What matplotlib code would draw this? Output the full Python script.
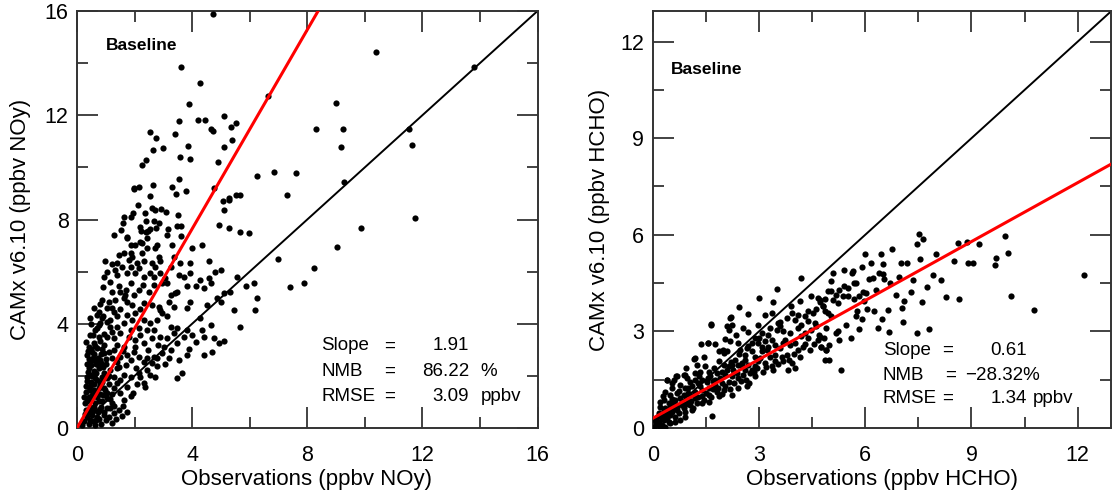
import numpy as np
import matplotlib
matplotlib.use("Agg")
import matplotlib.pyplot as plt
from matplotlib.ticker import MultipleLocator

plt.rcParams['font.family'] = ['Liberation Sans', 'DejaVu Sans']

# ---------------- NOy panel data (obs, model), ppbv ----------------
noy_points = [
    (3.62,13.84),(4.29,13.23),(3.88,12.42),(6.63,12.74),(5.10,11.98),(3.56,11.79),(4.21,11.80),(4.45,11.80),
    (5.52,11.72),(5.34,11.54),(4.64,11.47),(4.71,11.40),(2.55,11.35),(3.40,11.27),(2.76,11.14),(5.40,11.04),
    (2.98,10.74),(3.84,10.83),(2.63,10.67),(5.12,10.80),(3.58,10.41),(3.91,10.31),(2.41,10.28),(2.26,10.10),
    (4.90,10.19),(6.27,9.68),(6.86,9.81),(3.54,9.55),(2.63,9.31),(1.97,9.22),(2.16,9.24),(1.99,9.16),(3.29,9.24),
    (4.77,9.22),(2.55,8.91),(3.44,8.97),(3.79,9.08),(2.13,8.56),(2.61,8.43),(2.93,8.41),(3.10,8.28),(2.70,8.35),
    (2.38,8.24),(1.94,8.24),(1.65,8.11),(1.89,8.11),(3.50,8.16),(5.11,8.35),(5.08,8.71),(5.29,8.81),(5.29,8.73),
    (5.54,8.95),(5.66,8.95),(1.59,7.85),(2.40,7.94),(2.69,7.95),(2.84,7.88),(2.20,7.73),(2.53,7.65),(2.47,7.57),
    (2.24,7.55),(2.39,7.53),(2.74,7.68),(3.15,7.65),(3.47,7.75),(3.63,7.75),(4.93,7.78),(5.29,7.68),(5.65,7.52),
    (5.97,7.48),(1.28,7.41),(1.52,7.61),(1.73,7.31),(3.13,7.41),(3.63,7.38),
    (4.73,15.89),(10.39,14.44),(13.79,13.84),(9.00,12.47),(8.30,11.47),(9.23,11.47),(11.54,11.49),(9.16,10.80),
    (11.63,10.86),(7.61,9.80),(7.29,8.94),(9.26,9.43),(11.76,8.05),(9.87,7.66),(9.02,6.95),(8.22,6.15),
    (7.39,5.40),(7.90,5.58),(7.00,6.47),
    (1.74,7.28),(2.43,7.28),(2.20,7.15),(1.86,7.02),(2.03,7.02),(2.26,7.09),(2.78,7.02),(2.72,6.90),(3.30,7.02),
    (4.35,7.02),(4.00,6.90),
    (1.45,6.64),(1.62,6.70),(1.86,6.73),(2.26,6.70),(2.43,6.90),(2.84,6.58),(1.39,6.32),(0.99,6.39),(1.80,6.45),
    (1.91,6.58),(2.09,6.32),(2.32,6.39),(2.61,6.32),(2.90,6.39),(3.36,6.58),(3.59,6.32),(3.94,6.32),(4.58,6.39),
    (2.72,6.19),
    (1.33,6.07),(1.57,6.19),(1.86,6.19),(2.14,6.13),(2.03,5.94),(1.39,5.87),(1.74,5.94),(2.32,5.81),(2.67,5.81),
    (2.90,5.94),(3.25,6.19),(3.54,5.87),(3.71,5.81),(3.94,5.94),(4.29,5.68),(4.58,5.75),(4.81,6.00),(4.99,6.07),
    (3.07,5.75),(5.57,5.81),(6.14,5.55),(5.86,5.43),
    (1.22,5.23),(1.51,5.23),(1.86,5.55),(2.14,5.30),(2.49,5.23),(2.67,5.49),(2.96,5.55),(3.13,5.55),(3.42,5.17),
    (3.83,5.43),(4.12,5.43),(4.41,5.36),(4.64,5.55),(5.10,5.17),(5.33,5.23),(4.87,4.98),(3.25,5.11),(3.48,5.23),
    (1.68,5.11),(1.97,5.11),
    (0.87,4.91),(1.10,4.85),(1.33,4.91),(1.62,4.98),(1.74,4.85),(1.22,4.59),(0.75,4.47),(1.04,4.59),(1.91,4.72),
    (2.32,4.79),(2.61,4.72),(2.84,4.66),(3.19,4.85),(3.36,4.66),(3.83,4.59),(3.94,4.85),(4.52,4.72),(4.99,4.85),
    (5.45,4.53),(6.20,4.53),(6.26,4.98),(3.13,4.28),(2.90,4.53),
    (0.46,4.21),(0.70,4.34),(0.87,4.21),(1.16,4.15),(1.39,4.28),(1.62,4.02),(1.91,4.15),(2.32,4.15),(2.55,4.02),
    (2.78,4.15),(2.96,4.40),(1.39,3.89),(1.16,3.89),(0.81,4.02),(0.64,3.76),(1.86,3.76),(2.14,3.83),(2.43,3.76),
    (2.67,3.76),(3.25,3.89),(3.48,3.83),(3.83,3.76),(4.29,4.21),(4.35,3.76),(4.64,3.96),(5.68,3.89),
    (0.46,3.57),(0.75,3.51),(1.04,3.51),(1.28,3.44),(1.51,3.64),(1.80,3.51),(2.03,3.38),(2.32,3.25),(2.61,3.44),
    (2.90,3.51),(3.13,3.44),(3.48,3.25),(3.71,3.51),(4.00,3.57),(4.41,3.51),(4.75,3.44),(4.93,3.25),(5.10,3.32),
    (0.58,3.25),(0.93,3.19),(1.39,3.19),(1.62,3.12),(2.20,3.57),(3.01,3.12),(3.36,3.64),
    (0.35,2.80),(0.52,2.93),(0.70,3.06),(0.93,2.87),(1.10,2.93),(1.28,3.00),(1.51,2.74),(1.74,2.80),(1.97,2.93),
    (2.14,2.74),(2.43,2.68),(2.67,2.74),(2.96,2.87),(3.25,3.00),(3.83,2.80),(4.41,2.80),(4.70,2.93),(0.46,2.55),
    (0.81,2.61),(1.39,2.55),(1.86,2.61),(2.32,2.55),(2.78,2.68),
    (0.41,2.29),(0.58,2.17),(0.75,2.36),(0.93,2.10),(1.16,2.23),(1.39,2.29),(1.62,2.04),(1.86,1.97),(2.14,2.10),
    (2.43,2.23),(2.78,2.36),(0.35,1.97),(0.64,1.91),(1.04,1.91),(1.28,1.97),(2.72,1.97),(3.48,1.91),(3.65,2.10),
    (2.32,1.72),(1.51,1.85),(0.81,1.78),
    (0.41,1.59),(0.58,1.46),(0.81,1.65),(1.04,1.33),(1.28,1.53),(1.51,1.33),(1.74,1.59),(1.86,1.21),(0.52,1.27),
    (2.38,1.59),(0.93,1.53),(1.39,1.72),
    (0.29,0.95),(0.46,0.82),(0.64,0.95),(0.81,0.69),(1.04,0.76),(1.22,0.95),(1.45,0.69),(1.62,1.08),(1.74,0.63),
    (0.52,0.50),(0.70,0.44),(0.93,0.50),(1.10,0.44),(1.28,0.57),(0.35,0.44),(0.23,0.25),(0.17,0.12),
    (0.40,3.10),(0.55,2.70),(0.65,2.45),(0.45,2.05),(0.70,1.85),(0.85,2.50),(1.00,2.65),(0.50,1.75),(0.60,1.25),
    (0.75,1.05),(0.90,1.25),(1.15,1.10),(0.40,1.20),(0.55,0.65),(0.85,0.80),(0.65,0.30),(0.45,0.30),(1.00,0.30),
    (1.30,0.85),(0.35,2.45),(0.30,1.60),(0.95,3.60),(0.75,3.95),(1.20,3.70),(0.60,4.60),(0.90,5.40),(1.15,5.60),
    (1.05,6.00),(0.80,3.35),(1.45,2.35),
    (0.32,3.30),(0.38,2.95),(0.47,3.05),(0.58,2.85),(0.62,3.15),(0.72,2.70),(0.82,2.85),(0.88,3.05),(0.42,2.65),
    (0.50,2.40),(0.60,2.60),(0.70,2.50),(0.78,2.30),(0.90,2.35),(1.00,2.45),(0.38,2.15),(0.52,2.00),(0.66,2.10),
    (0.86,1.95),(0.98,2.05),(1.10,2.00),(0.36,1.80),(0.48,1.65),(0.60,1.70),(0.76,1.55),(0.88,1.75),(1.12,1.70),
    (0.32,1.40),(0.44,1.45),(0.66,1.40),(0.80,1.30),(0.98,1.45),(1.20,1.30),(0.25,1.20),(0.36,1.05),(0.50,1.10),
    (0.70,1.20),(0.88,1.05),(1.05,1.15),(0.30,0.70),(0.42,0.60),(0.58,0.80),(0.72,0.60),(0.95,0.60),(1.15,0.75),
    (0.40,0.15),(0.55,0.25),(0.75,0.35),(0.85,0.15),(1.20,0.20),(0.62,0.10),(0.28,0.55),(1.35,0.35),(1.55,0.45),
    (1.60,0.85),(1.95,1.35),(2.10,1.70),(2.20,1.95),(2.55,2.05),(2.60,2.50),(3.05,2.45),(3.20,2.70),(3.55,2.60),
    (3.90,3.05),(4.15,3.30),(2.05,2.30),(1.70,2.40),(1.20,2.70),(1.60,2.95),(2.00,3.10),(2.45,3.00),(2.80,3.20),
    (0.55,3.55),(0.68,3.85),(0.50,4.00),(0.90,4.30),(1.05,4.05),(1.30,4.45),(1.50,4.55),(1.75,4.35),(2.00,4.40),
    (2.20,4.55),(0.80,4.75),(1.45,5.45),(1.70,5.30),(2.30,5.50),(2.55,5.95),(1.20,6.30),(0.95,5.80),
]
noy_obs = [p[0] for p in noy_points]
noy_mod = [p[1] for p in noy_points]

# ---------------- HCHO panel data (obs, model), ppbv ----------------
hcho_points = [
    (7.52,6.03),(7.63,5.87),(7.47,5.70),(8.62,5.75),(8.88,5.78),(9.95,5.95),(6.75,5.56),
    (12.19,4.74),(10.12,4.10),(10.77,3.65),(10.02,5.45),(9.68,5.29),(9.66,5.05),(8.90,5.11),(9.04,5.13),
    (8.27,4.08),(7.73,4.39),(7.61,3.92),(7.80,3.06),(7.45,2.95),(7.08,3.30),(6.66,2.97),(6.37,3.11),(6.47,3.39),
    (6.63,3.68),(6.25,3.63),(7.29,4.22),(7.05,3.73),(7.10,3.94),(6.86,4.13),(7.99,5.39),(7.54,5.24),(7.00,5.11),
    (7.19,5.11),(6.44,5.39),(6.16,5.13),(6.49,5.08),(6.39,4.82),(6.49,4.77),(6.53,4.62),(6.21,4.67),(6.11,4.62),
    (6.02,4.20),(5.93,4.22),(5.83,4.10),(5.69,4.51),(5.64,4.82),(5.97,3.94),(5.74,3.47),(5.78,3.63),(5.83,3.06),
    (5.60,2.80),(5.69,4.00),
    (4.71,3.98),(4.80,3.78),(4.94,3.57),(5.04,3.47),(5.09,3.98),(5.04,4.24),(5.18,4.14),(5.27,4.30),(5.37,4.09),
    (5.23,3.88),(5.41,4.40),(5.51,4.35),(4.90,3.10),(4.71,2.84),(4.76,2.53),(4.99,2.58),(4.90,2.43),(4.99,2.12),
    (5.32,1.80),(5.18,2.95),(5.23,3.00),(5.27,2.74),(5.51,4.09),(5.04,4.56),(5.09,4.82),(5.65,4.87),(5.74,4.50),
    (3.50,4.32),(4.48,4.09),(4.67,4.04),(4.86,4.01),(4.72,3.90),(4.95,4.25),(4.81,3.78),(4.86,3.62),
    (4.39,3.62),(4.53,3.57),(4.30,3.47),(4.11,3.52),(3.92,3.57),(4.01,3.36),(4.39,3.31),(4.58,3.26),(4.20,3.21),
    (3.78,3.42),(3.36,3.57),(3.17,3.52),(3.54,3.26),(3.59,3.16),(3.69,3.00),(3.50,3.05),(2.98,3.21),
    (2.20,3.44),(2.23,3.21),(2.14,3.05),(2.09,3.16),(1.65,3.23),(2.70,2.98),(3.08,2.95),(3.26,2.90),(3.36,2.74),
    (3.17,2.69),(2.89,2.79),(2.79,2.64),(2.98,2.64),(2.42,2.64),(2.18,2.69),(1.56,2.64),(1.86,2.38),(2.00,2.33),
    (2.09,2.38),(2.47,2.43),(2.65,2.48),(2.79,2.38),(2.61,2.27),(3.08,2.38),(3.22,2.43),(3.31,2.22),(3.45,2.27),
    (3.73,2.74),(3.87,2.59),(4.01,2.64),(4.11,2.43),(4.25,2.53),(4.39,2.79),(4.44,2.43),(4.67,2.74),(4.76,2.53),
    (4.90,2.43),(4.86,2.12),(3.69,2.07),(3.83,1.81),(3.92,2.01),(4.01,1.86),(3.45,2.07),(3.36,1.91),(3.17,2.01),
    (2.98,2.07),(2.89,1.91),(2.79,1.81),(2.70,1.96),(2.61,1.81),(2.33,2.12),(2.42,1.96),(2.28,1.81),(2.14,1.91),
    (2.00,1.96),(1.86,2.07),(1.72,1.86),(1.48,1.91),(1.34,1.75),(1.20,1.70),(1.18,2.15),(1.58,1.75),(1.81,1.70),
    (2.04,1.65),(2.23,1.60),(2.42,1.55),(2.56,1.65),(2.75,1.70),(2.89,1.60),(2.65,1.29),(2.23,1.03),(1.67,0.37),
    (0.40,1.49),(0.68,1.60),(0.87,1.65),(0.97,1.55),(1.06,1.44),(0.54,1.23),(0.78,1.34),(0.92,1.23),(1.11,1.29),
    (1.29,1.39),(1.39,1.49),(1.53,1.44),(0.36,1.13),(0.50,1.03),(0.68,1.08),(0.87,1.03),(1.01,1.08),(1.20,1.13),
    (1.39,1.18),(1.58,1.23),(1.76,1.34),(1.95,1.39),(2.14,1.44),(0.31,0.87),(0.45,0.77),(0.64,0.87),(0.82,0.82),
    (1.01,0.87),(1.20,0.92),(1.39,0.98),(1.58,1.03),(1.81,1.13),(2.00,1.18),(0.21,0.66),(0.36,0.61),(0.50,0.66),
    (0.68,0.66),(0.87,0.61),(1.06,0.72),(1.25,0.77),(0.17,0.46),(0.26,0.40),(0.40,0.46),(0.54,0.51),(0.73,0.46),
    (0.92,0.51),(0.07,0.25),(0.17,0.20),(0.31,0.25),(0.40,0.30),(0.50,0.14),(0.12,0.09),(0.26,0.09),(0.36,0.04),
    (0.03,0.04),(0.21,0.02),
    (0.54,1.39),(1.20,1.49),(1.62,1.60),(1.90,1.55),(2.09,1.81),(2.37,1.70),(2.51,2.01),(2.23,1.96),(2.89,2.22),
    (3.03,2.17),(3.59,2.48),(3.78,2.27),(4.20,2.85),(4.30,2.95),(4.48,3.05),(4.62,3.16),(4.11,3.10),(3.87,2.95),
    (3.69,2.64),(3.45,2.59),(3.26,2.53),(3.08,2.53),(2.61,2.12),(2.51,1.91),(1.76,1.49),(1.34,1.29),(1.06,1.03),
    (0.78,0.92),(0.59,0.77),(0.45,0.56),(0.64,0.35),(0.78,0.25),(0.92,0.35),(1.11,0.56),(1.39,0.77),(1.58,0.82),
    (1.86,0.98),(0.39,1.50),(0.67,1.60),(0.91,1.66),(1.19,2.17),(1.66,3.21),(1.56,2.64),(2.17,3.42),(1.99,2.43),
    (0.25,0.30),(0.33,0.55),(0.48,0.40),(0.58,0.62),(0.70,0.55),(0.82,0.70),(0.95,0.75),(1.08,0.85),(1.15,0.62),
    (1.28,0.95),(1.45,0.88),(1.50,1.10),(1.65,0.95),(1.70,1.20),(1.85,1.25),(1.95,1.05),(2.05,1.30),(2.18,1.22),
    (2.30,1.40),(2.40,1.25),(2.50,1.45),(2.62,1.50),(2.72,1.40),(2.85,1.75),(2.95,1.85),(3.10,1.75),(3.20,1.90),
    (3.40,1.80),(3.55,2.00),(3.65,2.20),(3.85,2.10),(4.00,2.30),(4.15,2.20),(4.30,2.60),(4.55,2.60),(4.70,2.90),
    (4.85,2.80),(0.95,1.85),(1.25,1.95),(1.45,2.20),(1.75,2.60),(2.05,2.75),(2.35,2.90),(2.55,3.10),(0.60,1.50),
    (0.30,1.00),(0.22,0.80),(0.12,0.35),(0.08,0.15),(0.45,0.20),(0.62,0.20),(0.55,0.90),(0.75,1.15),(1.00,1.25),
    (1.30,1.60),(1.55,1.55),(1.70,1.45),(1.95,1.75),(2.20,2.05),(2.45,2.30),(2.70,2.55),(3.00,2.80),(3.30,3.10),
    (3.60,3.30),(3.90,3.80),(4.15,3.95),(4.60,3.70),(5.45,3.20),(5.90,3.40),(6.05,3.70),(6.30,4.30),(6.70,4.50),
    (6.95,4.70),(7.35,4.60),(7.90,4.75),(8.15,4.60),(8.50,5.20),(8.65,4.00),(9.20,5.70),(6.00,5.40),(5.40,4.90),
    (5.90,5.00),(3.00,4.05),(2.70,3.55),(3.40,3.90),(4.20,4.65),(2.45,3.75),(1.35,2.60),
]
hcho_obs = [p[0] for p in hcho_points]
hcho_mod = [p[1] for p in hcho_points]

# Regression fits and summary statistics
noy_slope, noy_intercept = 1.91, 0.0
hcho_slope, hcho_intercept = 0.61, 0.30
noy_stats = [("Slope", "1.91", ""), ("NMB", "86.22", "%"), ("RMSE", "3.09", "ppbv")]
hcho_stats = [("Slope", "0.61", ""), ("NMB", "\u221228.32%", ""), ("RMSE", "1.34", "ppbv")]

noy_max = 16.0
hcho_max = 12.95

TICK_FS = 15.5
LABEL_FS = 16
STAT_FS = 13.5

W, H = 1112, 493
fig = plt.figure(figsize=(W / 100, H / 100), dpi=100)
ax1 = fig.add_axes([77 / W, 1 - 428 / H, 460.5 / W, 417 / H])
ax2 = fig.add_axes([652.7 / W, 1 - 428 / H, 458.7 / W, 417 / H])


def style_axis(ax, vmax, major, minor, label):
    ax.set_xlim(0, vmax)
    ax.set_ylim(0, vmax)
    for a in (ax.xaxis, ax.yaxis):
        a.set_major_locator(MultipleLocator(major))
        a.set_minor_locator(MultipleLocator(minor))
    ax.tick_params(which='both', direction='in', top=True, right=True,
                   width=1.2, color='#222222', labelsize=TICK_FS, labelcolor='black')
    ax.tick_params(which='major', length=15)
    ax.tick_params(which='minor', length=8)
    ax.tick_params(axis='x', pad=12)
    ax.tick_params(axis='y', pad=6)
    for s in ax.spines.values():
        s.set_linewidth(1.4)
        s.set_color('#333333')
    ax.set_xlabel(f"Observations (ppbv {label})", fontsize=LABEL_FS)
    ax.set_ylabel(f"CAMx v6.10 (ppbv {label})", fontsize=LABEL_FS)


def draw_panel(ax, obs, mod, slope, intercept, vmax):
    ax.scatter(obs, mod, s=20, c='black', linewidths=0, zorder=3)
    xs = np.array([0.0, vmax])
    ax.plot(xs, xs, color='black', lw=1.4, zorder=2)
    ax.plot(xs, intercept + slope * xs, color='#ff0000', lw=2.2, zorder=4)


# NOy panel
style_axis(ax1, noy_max, 4, 2, "NOy")
draw_panel(ax1, noy_obs, noy_mod, noy_slope, noy_intercept, noy_max)
ax1.text(0.063, 0.918, "Baseline", transform=ax1.transAxes, fontsize=12.5,
         fontweight='bold', va='center')
for (name, val, unit), y in zip(noy_stats, [0.197, 0.135, 0.075]):
    ax1.text(0.531, y, name, transform=ax1.transAxes, fontsize=STAT_FS, va='center')
    ax1.text(0.667, y, "=", transform=ax1.transAxes, fontsize=STAT_FS, va='center')
    ax1.text(0.851, y, val, transform=ax1.transAxes, fontsize=STAT_FS, va='center', ha='right')
    if unit:
        ax1.text(0.877, y, unit, transform=ax1.transAxes, fontsize=STAT_FS, va='center')
ax1.xaxis.set_label_coords(0.499, -0.098)
ax1.yaxis.set_label_coords(-0.099, 0.5)

# HCHO panel
style_axis(ax2, hcho_max, 3, 1.5, "HCHO")
draw_panel(ax2, hcho_obs, hcho_mod, hcho_slope, hcho_intercept, hcho_max)
ax2.text(0.040, 0.859, "Baseline", transform=ax2.transAxes, fontsize=12.5,
         fontweight='bold', va='center')
for (name, val, unit), y, xe in zip(hcho_stats, [0.187, 0.127, 0.070], [0.632, 0.637, 0.632]):
    ax2.text(0.502, y, name, transform=ax2.transAxes, fontsize=STAT_FS, va='center')
    ax2.text(xe, y, "=", transform=ax2.transAxes, fontsize=STAT_FS, va='center')
    if name == "NMB":
        ax2.text(0.680, y, val, transform=ax2.transAxes, fontsize=STAT_FS, va='center')
    else:
        ax2.text(0.815, y, val, transform=ax2.transAxes, fontsize=STAT_FS, va='center', ha='right')
    if unit:
        ax2.text(0.828, y, unit, transform=ax2.transAxes, fontsize=STAT_FS, va='center')
ax2.xaxis.set_label_coords(0.5, -0.098)
ax2.yaxis.set_label_coords(-0.093, 0.5)

fig.savefig("out.png", dpi=100, facecolor='white')
